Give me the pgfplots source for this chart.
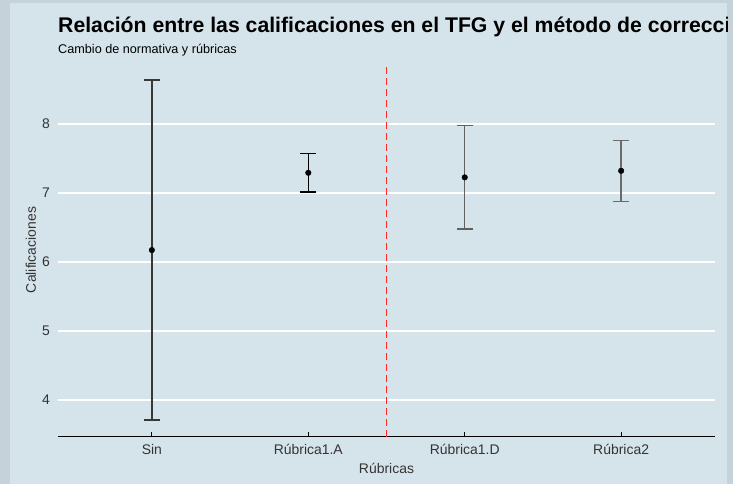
\documentclass[border=0pt]{standalone}
\usepackage{pgfplots}
\pgfplotsset{compat=1.18}
\usepackage{fontspec}
\setmainfont{Liberation Sans}
\definecolor{panel}{HTML}{D5E4EB}
\definecolor{outerc}{HTML}{C5D2D9}
\definecolor{txt}{HTML}{333333}
\begin{document}
\begin{tikzpicture}[x=1bp,y=1bp]
\useasboundingbox (0,0) rectangle (733,484);
\fill[outerc] (0,0) rectangle (733,484);
\fill[panel] (10,0) rectangle (727,481);
\begin{scope}
\clip (10,0) rectangle (727,481);
\node[anchor=base west, inner sep=0pt, font=\fontsize{21.3}{24}\selectfont\bfseries] at (58,451) {Relación entre las calificaciones en el TFG y el método de corrección};
\end{scope}
\node[anchor=base west, inner sep=0pt, font=\fontsize{12.7}{14}\selectfont] at (58,430.7) {Cambio de normativa y rúbricas};
\begin{axis}[
  at={(58bp,47bp)}, anchor=south west,
  scale only axis, width=657bp, height=374bp,
  xmin=0.4, xmax=4.6, ymin=3.464, ymax=8.886,
  axis x line*=bottom, axis y line*=left,
  y axis line style={draw=none},
  x axis line style={black, line width=1bp},
  ytick={4,5,6,7,8},
  ytick style={draw=none},
  xtick={1,2,3,4},
  xticklabels={Sin, Rúbrica1.A, Rúbrica1.D, Rúbrica2},
  xtick style={black, line width=1bp},
  tick align=inside, major tick length=5bp,
  ymajorgrids, grid style={white, line width=2bp},
  /pgf/number format/assume math mode=true,
  tick label style={font=\fontsize{14}{16}\selectfont, text=txt},
  yticklabel style={inner sep=0pt, xshift=-8bp},
  xticklabel style={inner sep=0pt, yshift=-7bp},
  xlabel={Rúbricas}, ylabel={Calificaciones},
  label style={font=\fontsize{14}{16}\selectfont, text=txt},
  xlabel style={at={(axis description cs:0.5,0)}, anchor=base, yshift=-37bp, inner sep=0pt},
  ylabel style={at={(axis description cs:0,0.5)}, anchor=center, yshift=27bp, inner sep=0pt},
  clip=false,
]
\addplot[red!85!white, line width=1.1bp, dash pattern=on 7bp off 4bp] coordinates {(2.5,3.464) (2.5,8.886)};
\addplot[only marks, mark=*, mark size=2.8bp, black,
  error bars/.cd, y dir=both, y explicit,
  error bar style={line width=1.5bp, color=black!78},
  error mark options={rotate=90, mark size=8bp, line width=1.5bp, color=black!78}]
  coordinates {(1,6.174) +- (0,2.466)};
\addplot[only marks, mark=*, mark size=2.8bp, black,
  error bars/.cd, y dir=both, y explicit,
  error bar style={line width=1.5bp, color=black},
  error mark options={rotate=90, mark size=8bp, line width=1.5bp, color=black}]
  coordinates {(2,7.294) +- (0,0.277)};
\addplot[only marks, mark=*, mark size=2.8bp, black,
  error bars/.cd, y dir=both, y explicit,
  error bar style={line width=1.5bp, color=black!62},
  error mark options={rotate=90, mark size=8bp, line width=1.5bp, color=black!62}]
  coordinates {(3,7.228) +- (0,0.751)};
\addplot[only marks, mark=*, mark size=2.8bp, black,
  error bars/.cd, y dir=both, y explicit,
  error bar style={line width=1.5bp, color=black!58},
  error mark options={rotate=90, mark size=8bp, line width=1.5bp, color=black!58}]
  coordinates {(4,7.323) +- (0,0.442)};
\end{axis}
\end{tikzpicture}
\end{document}
